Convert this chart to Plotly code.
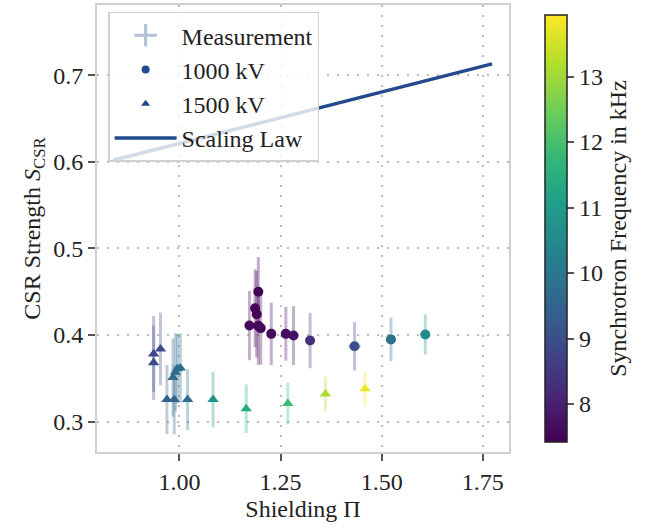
import plotly.graph_objects as go
from plotly.colors import sample_colorscale

# Measurements at 1000 kV (circles)
pi_1000 = [1.195, 1.187, 1.191, 1.173, 1.195, 1.201, 1.227, 1.263, 1.282, 1.323, 1.433, 1.523, 1.608]
s_1000 = [0.450, 0.431, 0.424, 0.411, 0.4106, 0.408, 0.4014, 0.4014, 0.3994, 0.3937, 0.387, 0.395, 0.4006]
s_err_1000 = [0.040, 0.045, 0.050, 0.040, 0.045, 0.042, 0.036, 0.031, 0.034, 0.032, 0.028, 0.025, 0.023]
pi_err_1000 = [0.008, 0.008, 0.008, 0.010, 0.008, 0.008, 0.008, 0.008, 0.008, 0.010, 0.015, 0.012, 0.012]
f_1000 = [7.5, 7.55, 7.5, 7.55, 7.5, 7.55, 7.6, 7.65, 7.7, 8.3, 8.95, 9.8, 10.55]

# Measurements at 1500 kV (triangles)
pi_1500 = [0.936, 0.936, 0.953, 0.969, 0.987, 0.984, 0.990, 0.995, 1.002, 1.020, 1.083, 1.165, 1.268, 1.361, 1.459]
s_1500 = [0.378, 0.368, 0.384, 0.3255, 0.3255, 0.351, 0.357, 0.361, 0.362, 0.3255, 0.3255, 0.315, 0.321, 0.332, 0.338]
s_err_1500 = [0.044, 0.043, 0.042, 0.040, 0.040, 0.045, 0.045, 0.040, 0.040, 0.035, 0.032, 0.028, 0.024, 0.020, 0.020]
pi_err_1500 = [0.004, 0.004, 0.004, 0.004, 0.004, 0.005, 0.005, 0.005, 0.005, 0.004, 0.004, 0.004, 0.004, 0.004, 0.004]
f_1500 = [8.85, 8.9, 8.9, 9.4, 9.45, 9.65, 9.7, 9.7, 9.75, 9.8, 10.7, 11.3, 11.85, 13.15, 13.8]

# Scaling law
pi_law = [0.836, 1.773]
s_law = [0.6017, 0.713]

f_min, f_max = 7.42, 13.94
x_range = [0.796, 1.815]
y_range = [0.265, 0.781]
x_ticks = [1.00, 1.25, 1.50, 1.75]
y_ticks = [0.3, 0.4, 0.5, 0.6, 0.7]
cbar_ticks = [8, 9, 10, 11, 12, 13]

FONT = "Liberation Serif"
FS = 24
LAW_COLOR = "#234a8c"
GRID = "#bdbdbd"


def rgba(freq, alpha):
    c = sample_colorscale("Viridis", [(freq - f_min) / (f_max - f_min)])[0]
    return c.replace("rgb(", "rgba(").replace(")", f",{alpha})")


fig = go.Figure()

# error bars, one trace per measurement so each bar carries its own colour
for xs, ys, yerr, xerr, fs in [
    (pi_1000, s_1000, s_err_1000, pi_err_1000, f_1000),
    (pi_1500, s_1500, s_err_1500, pi_err_1500, f_1500),
]:
    for x, y, ey, ex, f in zip(xs, ys, yerr, xerr, fs):
        col = rgba(f, 0.32)
        fig.add_trace(go.Scatter(
            x=[x], y=[y], mode="markers",
            marker=dict(size=1, opacity=0),
            error_y=dict(type="data", array=[ey], color=col, thickness=3, width=0),
            error_x=dict(type="data", array=[ex], color=col, thickness=3, width=0),
            showlegend=False, hoverinfo="skip",
        ))

# markers coloured by synchrotron frequency
fig.add_trace(go.Scatter(
    x=pi_1000, y=s_1000, mode="markers", showlegend=False,
    marker=dict(symbol="circle", size=10, color=f_1000, colorscale="Viridis",
                cmin=f_min, cmax=f_max, line=dict(width=0)),
))
fig.add_trace(go.Scatter(
    x=pi_1500, y=s_1500, mode="markers", showlegend=False,
    marker=dict(symbol="triangle-up", size=10, color=f_1500, colorscale="Viridis",
                cmin=f_min, cmax=f_max, line=dict(width=0),
                colorbar=dict(
                    x=1.063, xanchor="left", xref="paper",
                    y=0.5, yanchor="middle", len=1.0, lenmode="fraction",
                    thickness=22, thicknessmode="pixels",
                    outlinewidth=1.5, outlinecolor="#222",
                    tickvals=cbar_ticks, ticks="outside", ticklen=7,
                    tickwidth=1.5, tickcolor="#555",
                    tickfont=dict(family=FONT, size=FS, color="#222"),
                    title=dict(text="Synchrotron Frequency in kHz", side="right",
                               font=dict(family=FONT, size=FS, color="#222")),
                )),
))

# scaling law
fig.add_trace(go.Scatter(
    x=pi_law, y=s_law, mode="lines", showlegend=False,
    line=dict(color=LAW_COLOR, width=3.5),
))

# legend entries
fig.add_trace(go.Scatter(
    x=[None], y=[None], mode="markers", name="Measurement",
    marker=dict(symbol="cross-thin", size=22, color="rgba(35,74,140,0.35)",
                line=dict(width=3, color="rgba(35,74,140,0.35)")),
))
fig.add_trace(go.Scatter(
    x=[None], y=[None], mode="markers", name="1000 kV",
    marker=dict(symbol="circle", size=8, color=LAW_COLOR),
))
fig.add_trace(go.Scatter(
    x=[None], y=[None], mode="markers", name="1500 kV",
    marker=dict(symbol="triangle-up", size=8, color=LAW_COLOR),
))
fig.add_trace(go.Scatter(
    x=[None], y=[None], mode="lines", name="Scaling Law",
    line=dict(color=LAW_COLOR, width=3.5),
))

axis_common = dict(
    showgrid=True, gridcolor=GRID, gridwidth=1.5, griddash="2px,8px",
    zeroline=False, showline=True, linecolor="#d0d0d0", linewidth=2, mirror=True,
    ticks="outside", ticklen=7, tickwidth=1.5, tickcolor="#555",
    tickfont=dict(family=FONT, size=FS, color="#222"),
)

fig.update_layout(
    width=652, height=529,
    margin=dict(l=97, r=143, t=3, b=77),
    paper_bgcolor="white", plot_bgcolor="white",
    font=dict(family=FONT, size=FS, color="#222"),
    xaxis=dict(range=x_range, tickvals=x_ticks, tickformat=".2f",
               title=dict(text="Shielding Π", standoff=6,
                          font=dict(family=FONT, size=FS)),
               **axis_common),
    yaxis=dict(range=y_range, tickvals=y_ticks, tickformat=".1f",
               title=dict(text="CSR Strength <i>S</i><sub>CSR</sub>", standoff=6,
                          font=dict(family=FONT, size=FS)),
               **axis_common),
    legend=dict(x=0.027, y=0.985, xanchor="left", yanchor="top",
                bgcolor="rgba(255,255,255,0.8)", bordercolor="#d0d0d0", borderwidth=1.5,
                font=dict(family=FONT, size=FS, color="#222"),
                itemsizing="trace", itemwidth=62),
    showlegend=True,
)

fig.write_html("out.html")
